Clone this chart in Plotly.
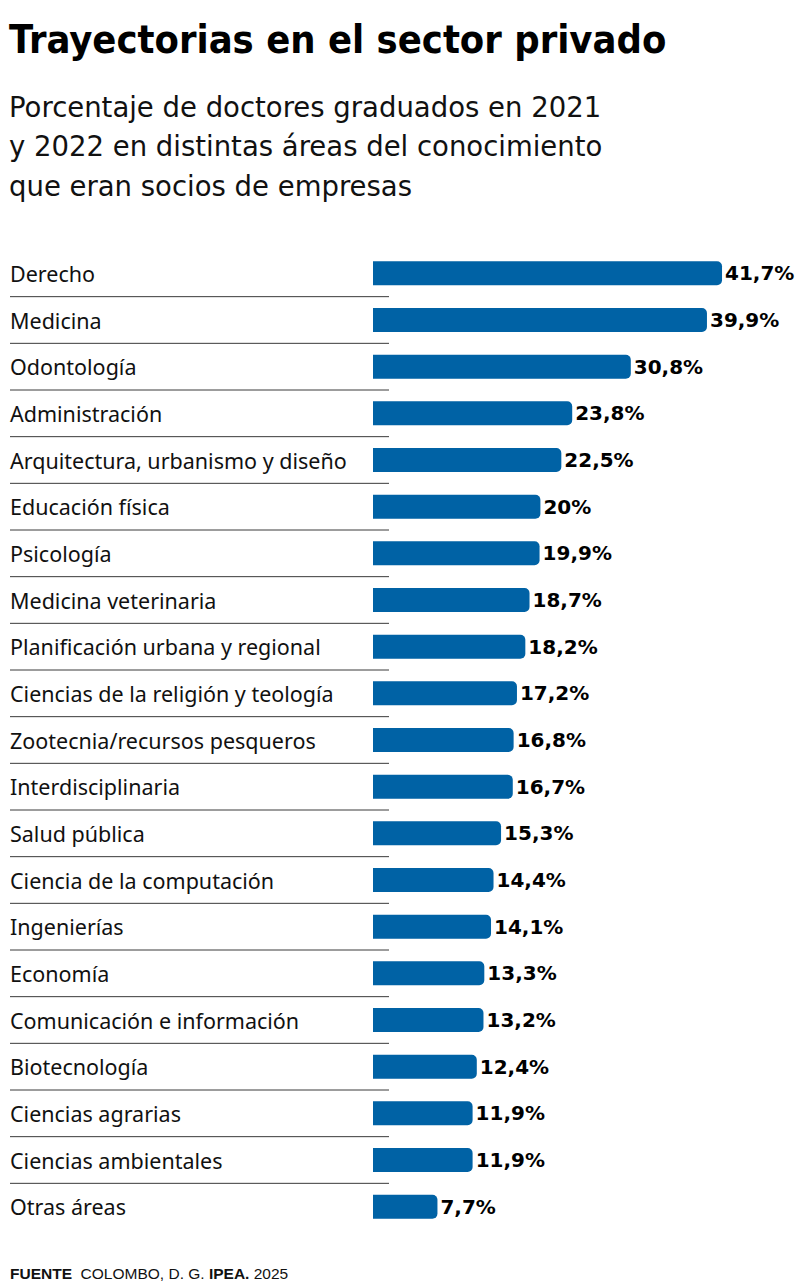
import plotly.graph_objects as go

categories = ["Derecho", "Medicina", "Odontología", "Administración",
              "Arquitectura, urbanismo y diseño", "Educación física", "Psicología",
              "Medicina veterinaria", "Planificación urbana y regional",
              "Ciencias de la religión y teología", "Zootecnia/recursos pesqueros",
              "Interdisciplinaria", "Salud pública", "Ciencia de la computación",
              "Ingenierías", "Economía", "Comunicación e información", "Biotecnología",
              "Ciencias agrarias", "Ciencias ambientales", "Otras áreas"]
values = [41.7, 39.9, 30.8, 23.8, 22.5, 20.0, 19.9, 18.7, 18.2, 17.2, 16.8,
          16.7, 15.3, 14.4, 14.1, 13.3, 13.2, 12.4, 11.9, 11.9, 7.7]
value_labels = ["41,7%", "39,9%", "30,8%", "23,8%", "22,5%", "20%", "19,9%",
                "18,7%", "18,2%", "17,2%", "16,8%", "16,7%", "15,3%", "14,4%",
                "14,1%", "13,3%", "13,2%", "12,4%", "11,9%", "11,9%", "7,7%"]
title_text = "Trayectorias en el sector privado"
subtitle_lines = ["Porcentaje de doctores graduados en 2021",
                  "y 2022 en distintas áreas del conocimiento",
                  "que eran socios de empresas"]
source_text = "<b>FUENTE</b>  COLOMBO, D. G. <b>IPEA.</b> 2025"

W, H = 800, 1282
ML, MR, MT, MB = 373, 0, 250, 52
PW = W - ML - MR
PH = H - MT - MB
ids = list(range(len(categories)))

fig = go.Figure(go.Bar(
    x=values, y=ids, orientation="h",
    marker=dict(color="#0062A5", cornerradius=5, line=dict(width=0)),
    text=value_labels, textposition="outside", cliponaxis=False,
    textfont=dict(family="DejaVu Sans, sans-serif", size=20, color="#000000", weight=700),
    hoverinfo="skip",
))

def px_x(px):
    return (px - ML) / PW

def px_y(py):
    return 1 - (py - MT) / PH

shapes = []
for i in range(len(categories) - 1):
    shapes.append(dict(type="line", xref="paper", yref="y",
                       x0=px_x(10), x1=px_x(389),
                       y0=i + 0.5, y1=i + 0.5,
                       line=dict(color="#3a3a3a", width=1)))

annotations = []
for i, c in enumerate(categories):
    annotations.append(dict(text=c, xref="paper", yref="y", x=px_x(8), y=i,
                            xanchor="left", yanchor="middle", showarrow=False,
                            font=dict(family="Noto Sans, sans-serif", size=21.5, color="#111111")))

annotations.append(dict(text=title_text, xref="paper", yref="paper",
                        x=px_x(7), y=px_y(39),
                        xanchor="left", yanchor="middle", showarrow=False,
                        font=dict(family="DejaVu Sans Condensed, Liberation Sans Narrow, DejaVu Sans, sans-serif",
                                  size=39.5, color="#000000", weight=700)))
for k, line in enumerate(subtitle_lines):
    annotations.append(dict(text=line, xref="paper", yref="paper",
                            x=px_x(7), y=px_y(107 + 39.5 * k),
                            xanchor="left", yanchor="middle", showarrow=False,
                            font=dict(family="DejaVu Sans, sans-serif", size=27.5, color="#111111")))
annotations.append(dict(text=source_text, xref="paper", yref="paper",
                        x=px_x(8), y=px_y(1273),
                        xanchor="left", yanchor="middle", showarrow=False,
                        font=dict(family="Liberation Sans, Arial, sans-serif", size=15.5, color="#111111")))

fig.update_layout(
    width=W, height=H, margin=dict(l=ML, r=MR, t=MT, b=MB),
    paper_bgcolor="white", plot_bgcolor="white",
    bargap=0.486, showlegend=False,
    xaxis=dict(range=[0, PW / 8.37], visible=False, fixedrange=True),
    yaxis=dict(range=[len(categories) - 0.5, -0.5], visible=False, fixedrange=True),
    shapes=shapes, annotations=annotations,
)

fig.write_html("out.html", config={"displayModeBar": False},
               post_script="document.body.style.margin='0';")
